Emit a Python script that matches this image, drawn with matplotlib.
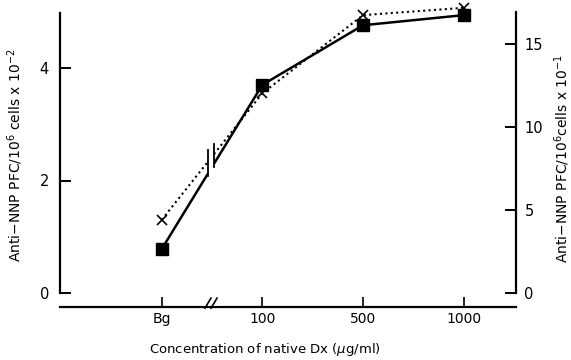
import matplotlib
matplotlib.use("Agg")
import matplotlib.pyplot as plt
import numpy as np

# Concentration categories and responses (left-axis units, PFC/10^6 cells x 10^-2)
categories = ["Bg", "100", "500", "1000"]
squares = [0.78, 3.70, 4.76, 4.94]   # solid line, filled squares
crosses = [1.30, 3.55, 4.94, 5.07]   # dotted line, crosses

left_ticks = [0, 2, 4]
right_ticks = [0, 5, 10, 15]

fig = plt.figure(figsize=(5.71, 3.60), dpi=100)
W, H = 571, 360
x0, x1 = 60, 516
y0, y1 = 293, 0.5
ax = fig.add_axes([x0 / W, 1 - y0 / H, (x1 - x0) / W, (y0 - y1) / H])
ax2 = ax.twinx()

xpos = np.arange(len(categories))
ax.set_xlim(-1.01, 3.52)
ax.set_ylim(0, 5.2)
ax2.set_ylim(0, 17.62)

# break position between Bg and 100
brk_a, brk_b = 0.46, 0.52

def draw_series(vals, style, lw):
    v = np.asarray(vals)
    ya = v[0] + (v[1] - v[0]) * brk_a
    yb = v[0] + (v[1] - v[0]) * brk_b
    ax.plot([0, brk_a], [v[0], ya], color="black", lw=lw, linestyle=style,
            solid_capstyle="butt", zorder=2)
    ax.plot(np.concatenate([[brk_b], xpos[1:]]), np.concatenate([[yb], v[1:]]),
            color="black", lw=lw, linestyle=style, solid_capstyle="butt", zorder=2)
    return ya, yb

sa, sb = draw_series(squares, "-", 1.8)
ca, cb = draw_series(crosses, (0, (1, 1.6)), 1.5)

# vertical break strokes across both lines
ax.plot([brk_a, brk_a], [sa - 0.05, ca + 0.2], color="black", lw=1.3, zorder=3)
ax.plot([brk_b, brk_b], [sb - 0.05, cb + 0.18], color="black", lw=1.3, zorder=3)

ax.plot(xpos, squares, linestyle="none", marker="s", ms=8.5, color="black", zorder=4)
ax.plot(xpos, crosses, linestyle="none", marker="x", ms=7, mew=1.2, color="black", zorder=4)

# spines
for a in (ax, ax2):
    a.spines["top"].set_visible(False)
ax.spines["right"].set_visible(False)
ax2.spines["left"].set_visible(False)
ax2.spines["bottom"].set_visible(False)
ax.spines["left"].set_bounds(0, 4.98)
ax.spines["left"].set_linewidth(1.6)
ax2.spines["right"].set_bounds(0, 16.9)
ax2.spines["right"].set_linewidth(1.6)
ax.spines["bottom"].set_position(("outward", 10))
ax.spines["bottom"].set_linewidth(1.6)

ax.set_xticks(xpos)
ax.set_xticklabels(categories)
ax.set_yticks(left_ticks)
ax2.set_yticks(right_ticks)

ax.tick_params(axis="x", direction="in", length=7.5, width=1.2, labelsize=10, pad=4)
ax.tick_params(axis="y", direction="in", length=8, width=1.4, labelsize=10.5, pad=8)
ax2.tick_params(axis="y", direction="in", length=8, width=1.4, labelsize=10.5, pad=6)

# axis break on the x axis
bx = (brk_a + brk_b) / 2
ax.plot([bx - 0.06, bx + 0.06], [-0.18, -0.18], color="white", lw=4,
        clip_on=False, zorder=5)
for dx in (-0.03, 0.03):
    ax.plot([bx + dx - 0.03, bx + dx + 0.03], [-0.27, -0.09], color="black", lw=1.2,
            clip_on=False, zorder=6)

fig.text(15 / W, 1 - 155 / H, r"Anti$-$NNP PFC/10$^6$ cells x 10$^{-2}$",
         rotation=90, ha="center", va="center", fontsize=10)
fig.text(562 / W, 1 - 158 / H, r"Anti$-$NNP PFC/10$^6$cells x 10$^{-1}$",
         rotation=90, ha="center", va="center", fontsize=10)
fig.text(265 / W, 1 - 350 / H, r"Concentration of native Dx ($\mu$g/ml)",
         ha="center", va="center", fontsize=9.5)

fig.savefig("out.png", dpi=100)
